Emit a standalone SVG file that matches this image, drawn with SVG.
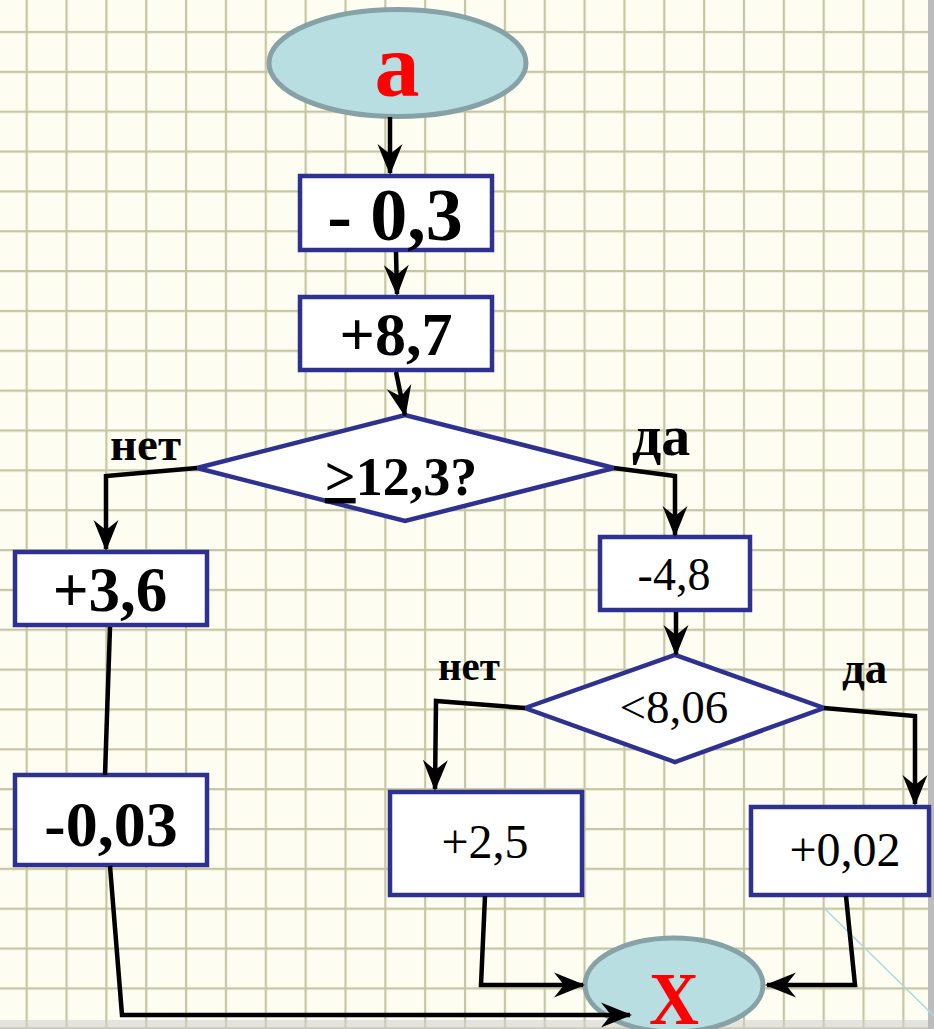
<svg xmlns="http://www.w3.org/2000/svg" width="934" height="1029" viewBox="0 0 934 1029">
<defs>
<pattern id="grid" patternUnits="userSpaceOnUse" x="6.7" y="12" width="39.85" height="39.85">
<rect width="39.85" height="39.85" fill="#fdfdf2"/>
<path d="M20,0 V39.85 M0,20 H39.85" stroke="#c6c6a2" stroke-width="2.2" fill="none"/>
</pattern>
<marker id="ah" markerUnits="userSpaceOnUse" viewBox="-32 -13 34 26" refX="-2" refY="0" markerWidth="34" markerHeight="26" orient="auto">
<path d="M0,0 L-31,-12.5 L-21,0 L-31,12.5 Z" fill="#000"/>
</marker>
</defs>
<style>
.box{fill:#fff;stroke:#2e3190;stroke-width:4.5}
.term{fill:#b9dee2;stroke:#86a2a6;stroke-width:5}
.con{fill:none;stroke:#000;stroke-width:4.5;stroke-linejoin:miter}
.arr{marker-end:url(#ah)}
.b{font-family:"Liberation Serif","Times New Roman",serif;font-weight:bold;fill:#000}
.r{font-family:"Liberation Serif","Times New Roman",serif;fill:#000}
.red{font-family:"Liberation Serif","Times New Roman",serif;font-weight:bold;fill:#ff0000}
</style>
<rect width="934" height="1029" fill="url(#grid)"/>
<rect x="928" y="0" width="6" height="1029" fill="#bcbcbc"/>
<rect x="0" y="1020" width="928" height="9" fill="#cfcfcf" opacity="0.55"/>
<line x1="824" y1="908" x2="934" y2="1016" stroke="#a9d9e2" stroke-width="1.5"/>

<g id="start">
<ellipse class="term" cx="397.5" cy="63" rx="128.5" ry="53.5"/>
<text class="red" x="397" y="96" font-size="90" text-anchor="middle">a</text>
</g>
<g id="n1">
<rect class="box" x="300" y="176" width="192" height="74"/>
<text class="b" x="395" y="240" font-size="74" text-anchor="middle">- 0,3</text>
</g>
<g id="n2">
<rect class="box" x="300" y="297" width="192" height="73"/>
<text class="b" x="396" y="355" font-size="62" text-anchor="middle">+8,7</text>
</g>
<g id="d1">
<polygon class="box" points="197,468 405,415 614,468 405,521"/>
<text class="b" x="401" y="495" font-size="54" text-anchor="middle"><tspan text-decoration="underline">&gt;</tspan>12,3?</text>
<text class="b" x="110" y="460" font-size="47">нет</text>
<text class="b" x="632" y="455" font-size="58">да</text>
</g>
<g id="n3">
<rect class="box" x="15" y="552" width="192" height="73"/>
<text class="b" x="110" y="611" font-size="63" text-anchor="middle">+3,6</text>
</g>
<g id="n4">
<rect class="box" x="15" y="775" width="192" height="90"/>
<text class="b" x="111" y="846" font-size="64" text-anchor="middle">-0,03</text>
</g>
<g id="n5">
<rect class="box" x="600" y="537" width="150" height="73"/>
<text class="r" x="674" y="590" font-size="46" text-anchor="middle">-4,8</text>
</g>
<g id="d2">
<polygon class="box" points="525,708 675,655 824,708 675,762"/>
<text class="r" x="674" y="723" font-size="47" text-anchor="middle">&lt;8,06</text>
<text class="b" x="438" y="680" font-size="41">нет</text>
<text class="b" x="842" y="683" font-size="45">да</text>
</g>
<g id="n6">
<rect class="box" x="390" y="792" width="192" height="103"/>
<text class="r" x="485" y="858" font-size="48" text-anchor="middle">+2,5</text>
</g>
<g id="n7">
<rect class="box" x="751" y="807" width="178" height="88"/>
<text class="r" x="845" y="866" font-size="48" text-anchor="middle">+0,02</text>
</g>
<g id="end">
<ellipse class="term" cx="674" cy="985" rx="89" ry="47"/>
<text class="red" x="674" y="1024" font-size="75" text-anchor="middle" textLength="50" lengthAdjust="spacingAndGlyphs">X</text>
</g>

<g id="connectors">
<path class="con arr" d="M390,117 L390,173"/>
<path class="con arr" d="M396,252 L397,294"/>
<path class="con arr" d="M396,372 L405,415"/>
<path class="con arr" d="M197,468 L106,476 L106,549"/>
<path class="con arr" d="M614,468 L675,476 L675,535"/>
<path class="con arr" d="M676,612 L676,654"/>
<path class="con arr" d="M525,708 L436,701 L435,789"/>
<path class="con arr" d="M824,708 L915,716 L915,804"/>
<path class="con" d="M110,627 L105,775"/>
<path class="con arr" d="M110,866 L122,1015 L630,1015"/>
<path class="con arr" d="M485,896 L481,985 L583,985"/>
<path class="con arr" d="M846,896 L855,985 L767,985"/>
</g>
</svg>
